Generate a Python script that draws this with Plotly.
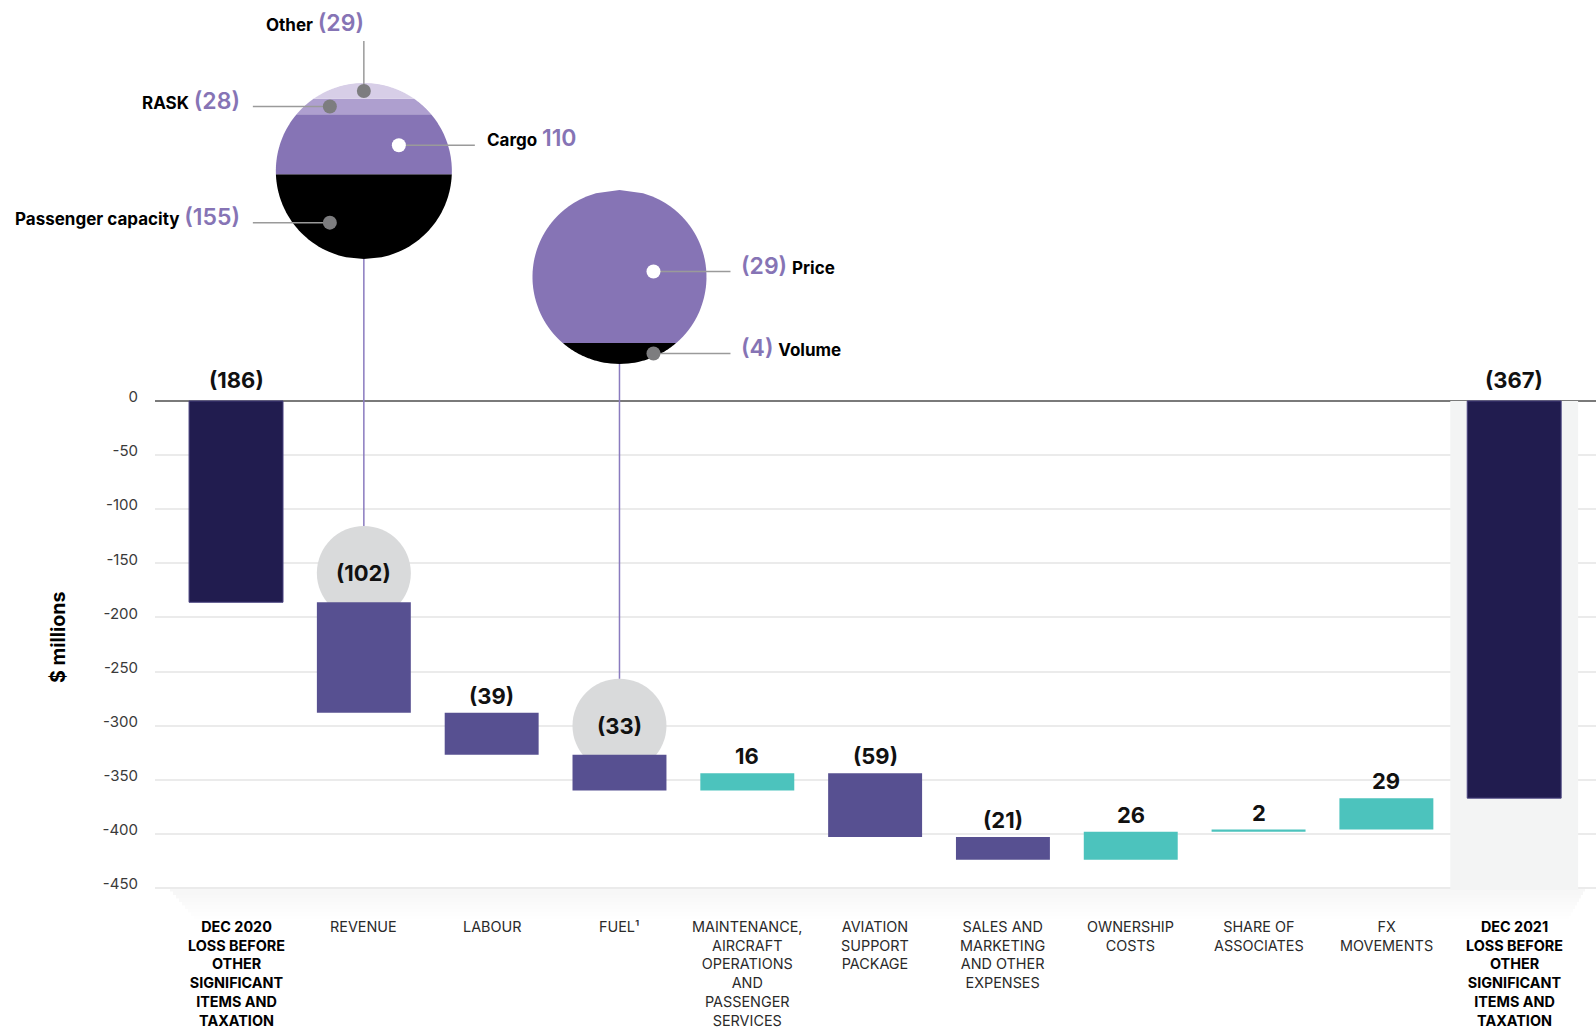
import plotly.graph_objects as go
import numpy as np

# ---------------- data ----------------
categories = ["DEC 2020 LOSS", "REVENUE", "LABOUR", "FUEL", "MAINTENANCE", "AVIATION SUPPORT",
              "SALES AND MARKETING", "OWNERSHIP COSTS", "SHARE OF ASSOCIATES", "FX MOVEMENTS", "DEC 2021 LOSS"]
category_labels = [
    "<b>DEC 2020<br>LOSS BEFORE<br>OTHER<br>SIGNIFICANT<br>ITEMS AND<br>TAXATION</b>",
    "REVENUE",
    "LABOUR",
    "FUEL¹",
    "MAINTENANCE,<br>AIRCRAFT<br>OPERATIONS<br>AND<br>PASSENGER<br>SERVICES",
    "AVIATION<br>SUPPORT<br>PACKAGE",
    "SALES AND<br>MARKETING<br>AND OTHER<br>EXPENSES",
    "OWNERSHIP<br>COSTS",
    "SHARE OF<br>ASSOCIATES",
    "FX<br>MOVEMENTS",
    "<b>DEC 2021<br>LOSS BEFORE<br>OTHER<br>SIGNIFICANT<br>ITEMS AND<br>TAXATION</b>",
]
measures = ["absolute"] + ["relative"] * 9 + ["total"]
values = [-186, -102, -39, -33, 16, -59, -21, 26, 2, 29, -367]

revenue_parts = ["Passenger capacity", "Cargo", "RASK", "Other"]   # bottom to top
revenue_values = [-155, 110, -28, -29]
fuel_parts = ["Volume", "Price"]                                      # bottom to top
fuel_values = [-4, -29]

y_ticks = [0, -50, -100, -150, -200, -250, -300, -350, -400, -450]

# ---------------- styling ----------------
NAVY = "#211c4f"
NEG = "#575091"
POS = "#4cc3bd"
PURPLE = "#8674b5"
BLACK = "#000000"
SLICE_COLORS = {"Passenger capacity": BLACK, "Cargo": PURPLE, "RASK": "#ae9fcf", "Other": "#d7cee7",
                "Volume": BLACK, "Price": PURPLE}
DOT_COLORS = {"Passenger capacity": "#7d7d7f", "Cargo": "#ffffff", "RASK": "#7d7d7f", "Other": "#7d7d7f",
              "Volume": "#7d7d7f", "Price": "#ffffff"}
# dot offsets inside each slice (px): (dx, dy from slice middle)
DOT_OFFSET = {"Passenger capacity": (-34, 6), "Cargo": (35, 1), "RASK": (-34, 0), "Other": (0, 0),
              "Volume": (34, 0), "Price": (34, 5)}
FONT = "Inter"

W, H = 1596, 1030
L, R, T, B = 155, 0, 0, 137
plot_w, plot_h = W - L - R, H - T - B
xr = [-0.634, 10.64]
ppc = plot_w / (xr[1] - xr[0])            # px per category
k = 487 / 450                              # px per $m
y_top = 370.5
yr = [y_top - plot_h / k, y_top]


def X(px):
    return xr[0] + (px - L) / ppc


def Y(py):
    return y_top - (py - T) / k


def PX(xc):
    return L + (xc - xr[0]) * ppc


def PY(yv):
    return T + (y_top - yv) * k


def P(py):  # paper y from pixel y
    return 1 - (py - T) / plot_h


def PXp(px):  # paper x from pixel x
    return (px - L) / plot_w


def fmt(v):
    return f"({abs(v)})" if v < 0 else f"{v}"


xs = list(range(len(categories)))

# running totals
starts, ends = [], []
run = 0
for m, v in zip(measures, values):
    if m == "absolute":
        s, e = 0, v
        run = v
    elif m == "total":
        s, e = 0, v
    else:
        s, e = run, run + v
        run = run + v
    starts.append(s)
    ends.append(e)
tops = [max(s, e) for s, e in zip(starts, ends)]

fig = go.Figure()

shapes = []
annotations = []

# final column band
shapes.append(dict(type="rect", xref="x", yref="y", x0=9.5, x1=10.5, y0=0, y1=Y(890),
                   fillcolor="#f3f4f4", line=dict(width=0), layer="between"))
# soft shadow under plot
for i, op in enumerate([0.03, 0.03, 0.028, 0.025, 0.02, 0.016, 0.012, 0.008, 0.005]):
    shapes.append(dict(type="rect", xref="x", yref="paper", x0=X(170 + i * 3), x1=X(1585 - i * 2),
                       y0=P(888 + i * 3.5), y1=P(891.5 + i * 3.5),
                       fillcolor="#000000", opacity=op, line=dict(width=0), layer="below"))

fig.add_trace(go.Waterfall(
    x=xs, y=values, measure=measures, width=0.735,
    decreasing=dict(marker=dict(color=NEG, line=dict(width=0))),
    increasing=dict(marker=dict(color=POS, line=dict(width=0))),
    totals=dict(marker=dict(color=NAVY, line=dict(color="#4a4380", width=1))),
    connector=dict(visible=False), hoverinfo="skip", showlegend=False,
))

# bar labels / grey bubbles
bubble_r_px = 47
for i, (lab_v, top) in enumerate(zip(values, tops)):
    txt = f"<b>{fmt(lab_v)}</b>"
    if i in (1, 3):
        cy = top + 27
        shapes.append(dict(type="circle", xref="x", yref="y",
                           x0=i - bubble_r_px / ppc, x1=i + bubble_r_px / ppc,
                           y0=cy - bubble_r_px / k, y1=cy + bubble_r_px / k,
                           fillcolor="#d9dadb", line=dict(width=0), layer="between"))
        annotations.append(dict(x=i, y=cy, xref="x", yref="y", text=txt, showarrow=False,
                                font=dict(size=22, color="#111111"), yanchor="middle"))
    else:
        shift = 6 if i in (0, 10) else 2
        annotations.append(dict(x=i, y=top, xref="x", yref="y", text=txt, showarrow=False,
                                font=dict(size=22, color="#111111"), yanchor="bottom", yshift=shift))


# ---------------- breakdown circles ----------------
def slice_path(cx_px, cy_px, Rpx, pa, pb, n=48):
    pts = []
    for py in np.linspace(pa, pb, n):
        dy = py - cy_px
        hw = np.sqrt(max(Rpx ** 2 - dy ** 2, 0))
        pts.append((cx_px + hw, py))
    for py in np.linspace(pb, pa, n):
        dy = py - cy_px
        hw = np.sqrt(max(Rpx ** 2 - dy ** 2, 0))
        pts.append((cx_px - hw, py))
    return "M " + " L ".join(f"{X(a):.5f},{Y(b):.4f}" for a, b in pts) + " Z"


def draw_circle(cat, cy_px, Rpx, parts, vals):
    cx_px = PX(cat)
    tot = sum(abs(v) for v in vals)
    bottom = cy_px + Rpx
    mids = {}
    for name, v in zip(parts, vals):
        h = abs(v) / tot * 2 * Rpx
        top = bottom - h
        shapes.append(dict(type="path", xref="x", yref="y", path=slice_path(cx_px, cy_px, Rpx, top, bottom),
                           fillcolor=SLICE_COLORS[name], line=dict(width=0), layer="between"))
        ox, oy = DOT_OFFSET[name]
        mids[name] = (cx_px + ox, (top + bottom) / 2 + oy)
        bottom = top
    return mids


rev_mid = draw_circle(1, 171, 88, revenue_parts, revenue_values)
fuel_mid = draw_circle(3, 277, 87, fuel_parts, fuel_values)

# vertical connectors circle -> bubble
for cat, cy_px, Rpx in [(1, 171, 88), (3, 277, 87)]:
    bub_top = PY(tops[cat] + 27) - bubble_r_px
    shapes.append(dict(type="line", xref="x", yref="y", x0=cat, x1=cat, y0=Y(cy_px + Rpx), y1=Y(bub_top),
                       line=dict(color="#8a7bbf", width=1.5), layer="between"))

LEAD = "#9a9a9a"
name_val = dict(zip(revenue_parts + fuel_parts, revenue_values + fuel_values))


def num_span(v):
    return f"<span style='font-size:23px;color:{PURPLE};font-weight:600'>{fmt(v)}</span>"


LBL = dict(size=17, color="#000000")
dots_x, dots_y, dots_c = [], [], []
for name, (dx, dy) in list(rev_mid.items()) + list(fuel_mid.items()):
    dots_x.append(X(dx))
    dots_y.append(Y(dy))
    dots_c.append(DOT_COLORS[name])
    v = name_val[name]
    if name == "Other":
        shapes.append(dict(type="line", xref="x", yref="y", x0=X(dx), x1=X(dx), y0=Y(dy), y1=Y(41),
                           line=dict(color=LEAD, width=1.5), layer="between"))
        annotations.append(dict(x=X(dx + 2), y=Y(23), xref="x", yref="y", xanchor="right", yanchor="middle",
                                text=f"<b>{name}</b> {num_span(v)}", showarrow=False, font=LBL))
    elif name in ("RASK", "Passenger capacity"):
        shapes.append(dict(type="line", xref="x", yref="y", x0=X(dx), x1=X(dx - 77), y0=Y(dy), y1=Y(dy),
                           line=dict(color=LEAD, width=1.5), layer="between"))
        annotations.append(dict(x=X(dx - 88), y=Y(dy - 6), xref="x", yref="y", xanchor="right", yanchor="middle",
                                text=f"<b>{name}</b> {num_span(v)}", showarrow=False, font=LBL))
    elif name == "Cargo":
        shapes.append(dict(type="line", xref="x", yref="y", x0=X(dx), x1=X(dx + 76), y0=Y(dy), y1=Y(dy),
                           line=dict(color=LEAD, width=1.5), layer="between"))
        annotations.append(dict(x=X(dx + 86), y=Y(dy - 7), xref="x", yref="y", xanchor="left", yanchor="middle",
                                text=f"<b>{name}</b> {num_span(v)}", showarrow=False, font=LBL))
    else:
        shapes.append(dict(type="line", xref="x", yref="y", x0=X(dx), x1=X(dx + 77), y0=Y(dy), y1=Y(dy),
                           line=dict(color=LEAD, width=1.5), layer="between"))
        annotations.append(dict(x=X(dx + 86), y=Y(dy - 5), xref="x", yref="y", xanchor="left", yanchor="middle",
                                text=f"{num_span(v)} <b>{name}</b>", showarrow=False, font=LBL))

fig.add_trace(go.Scatter(x=dots_x, y=dots_y, mode="markers", cliponaxis=False,
                         marker=dict(size=14, color=dots_c, line=dict(width=0)),
                         hoverinfo="skip", showlegend=False))

# category labels
for i, lab in enumerate(category_labels):
    annotations.append(dict(x=i, y=P(917), xref="x", yref="paper", text=lab, showarrow=False,
                            xanchor="center", yanchor="top", align="center", borderpad=0,
                            font=dict(size=14.4, color="#000000" if i in (0, 10) else "#2a2a2a")))

# y axis title
annotations.append(dict(x=PXp(58), y=P(638), xref="paper", yref="paper", text="<b>$ millions</b>",
                        textangle=-90, xanchor="center", yanchor="middle",
                        showarrow=False, font=dict(size=19.5, color="#000000")))

# small stray mark
shapes.append(dict(type="line", xref="x", yref="y", x0=X(42), x1=X(42), y0=Y(81), y1=Y(86),
                   line=dict(color="#555555", width=1)))

fig.update_layout(
    width=W, height=H, margin=dict(l=L, r=R, t=T, b=B, pad=0),
    paper_bgcolor="white", plot_bgcolor="white",
    font=dict(family=FONT, color="#222222"),
    shapes=shapes, annotations=annotations,
    xaxis=dict(range=xr, showticklabels=False, showgrid=False, zeroline=False, ticks="",
               fixedrange=True),
    yaxis=dict(range=yr, tickvals=y_ticks, ticktext=[str(v) for v in y_ticks],
               showgrid=True, gridcolor="#ebebeb", gridwidth=1.5,
               zeroline=True, zerolinecolor="#7a7a7a", zerolinewidth=1.5,
               ticks="", ticklabelstandoff=16, ticklabelshift=-4, tickfont=dict(size=15, color="#3a3a3a"),
               showline=False, fixedrange=True),
    showlegend=False,
)

fig.write_html("out.html")
